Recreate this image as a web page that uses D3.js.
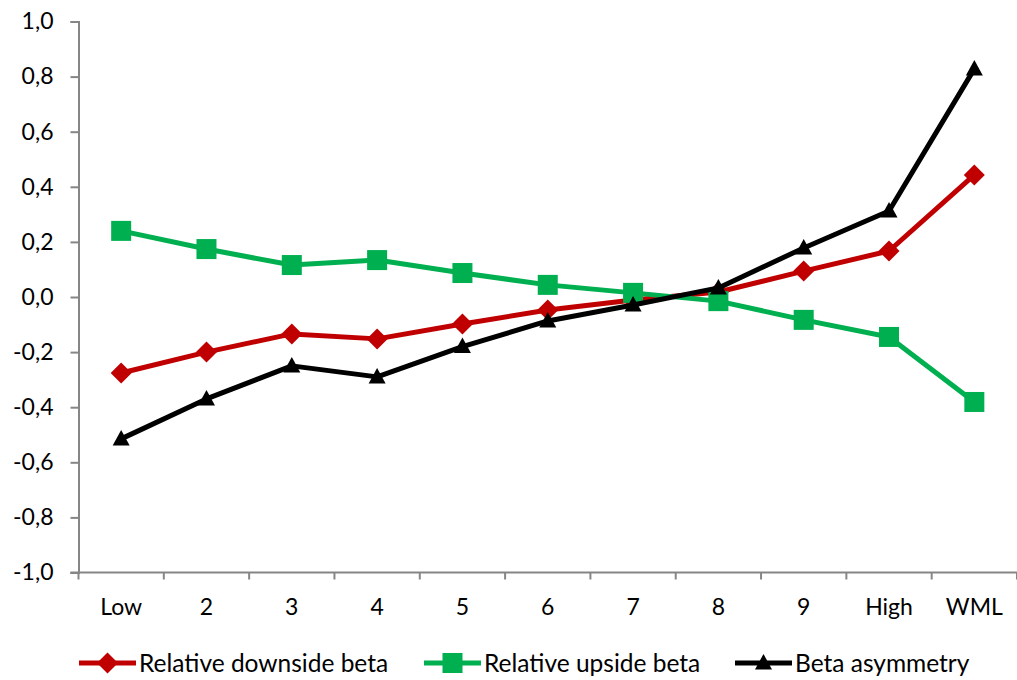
<!DOCTYPE html>
<html><head><meta charset="utf-8">
<script src="https://cdn.jsdelivr.net/npm/d3@7"></script>
<style>body{margin:0;background:#fff}svg{display:block}text{font-family:Lato,"Open Sans",sans-serif;fill:#000}</style>
</head><body><svg id="c" width="1017" height="680"></svg>
<script>
const categories = ["Low","2","3","4","5","6","7","8","9","High","WML"];
const downside = [-0.276,-0.200,-0.134,-0.152,-0.098,-0.047,-0.011,0.018,0.094,0.167,0.443];
const upside = [0.240,0.174,0.116,0.134,0.087,0.044,0.015,-0.015,-0.083,-0.145,-0.381];
const asymmetry = [-0.515,-0.370,-0.250,-0.290,-0.180,-0.087,-0.029,0.033,0.178,0.312,0.828];
const yTicks = [-1,-0.8,-0.6,-0.4,-0.2,0,0.2,0.4,0.6,0.8,1];
const seriesNames = ["Relative downside beta","Relative upside beta","Beta asymmetry"];

const svg = d3.select("#c");
const L=78.5, R=1017, T=21.5, B=572.5;
const x = d3.scaleBand().domain(categories).range([L,R]);
const y = d3.scaleLinear().domain([-1,1]).range([B,T]);
const fmt = d => d3.format(".1f")(d).replace(".",",").replace("−","-");
const axisColor="#868686";

// Y axis
const ya = svg.append("g").attr("transform",`translate(${L},0)`)
  .call(d3.axisLeft(y).tickValues(yTicks).tickSize(8).tickPadding(17).tickFormat(fmt));
ya.select(".domain").attr("stroke",axisColor).attr("stroke-width",2);
ya.selectAll(".tick line").attr("stroke",axisColor).attr("stroke-width",2);
ya.selectAll(".tick text").attr("font-size",23).attr("font-family","Lato");

// X axis
const xa = svg.append("g").attr("transform",`translate(0,${B})`);
xa.append("line").attr("x1",L-8).attr("x2",R).attr("stroke",axisColor).attr("stroke-width",2);
const bounds = categories.map(c=>x(c)).concat([R]);
xa.selectAll(".tk").data(bounds).join("line").attr("x1",d=>d).attr("x2",d=>d).attr("y1",0).attr("y2",7).attr("stroke",axisColor).attr("stroke-width",2);
xa.selectAll(".lb").data(categories).join("text").attr("x",d=>x(d)+x.bandwidth()/2).attr("y",42)
  .attr("text-anchor","middle").attr("font-size",23).text(d=>d);

const cx = c => x(c)+x.bandwidth()/2;
const series = [
  {name:seriesNames[0], vals:downside, color:"#C00000", sym:"diamond"},
  {name:seriesNames[1], vals:upside, color:"#00B050", sym:"square"},
  {name:seriesNames[2], vals:asymmetry, color:"#000000", sym:"triangle"}
];
function marker(g, sym, color){
  if(sym==="diamond") g.append("path").attr("d","M0,-10.5L10.5,0L0,10.5L-10.5,0Z").attr("fill",color);
  else if(sym==="square") g.append("rect").attr("x",-10).attr("y",-10).attr("width",20).attr("height",20).attr("fill",color);
  else g.append("path").attr("d","M0,-9L8.5,6.5L-8.5,6.5Z").attr("fill",color);
}
const line = d3.line().x((d,i)=>cx(categories[i])).y(d=>y(d));
series.forEach(s=>{
  svg.append("path").datum(s.vals).attr("d",line).attr("fill","none").attr("stroke",s.color).attr("stroke-width",5).attr("stroke-linejoin","round");
  s.vals.forEach((v,i)=>{
    const g = svg.append("g").attr("transform",`translate(${cx(categories[i])},${y(v)})`);
    marker(g,s.sym,s.color);
  });
});

// Legend
const legX=[79,424,735];
series.forEach((s,i)=>{
  const g = svg.append("g").attr("transform",`translate(${legX[i]},663)`);
  g.append("line").attr("x1",0).attr("x2",57).attr("stroke",s.color).attr("stroke-width",5);
  const m = g.append("g").attr("transform","translate(28.5,0)");
  marker(m,s.sym,s.color);
  g.append("text").attr("x",60).attr("y",0).attr("dy","0.35em").attr("font-size",24.5).text(s.name);
});
</script></body></html>
